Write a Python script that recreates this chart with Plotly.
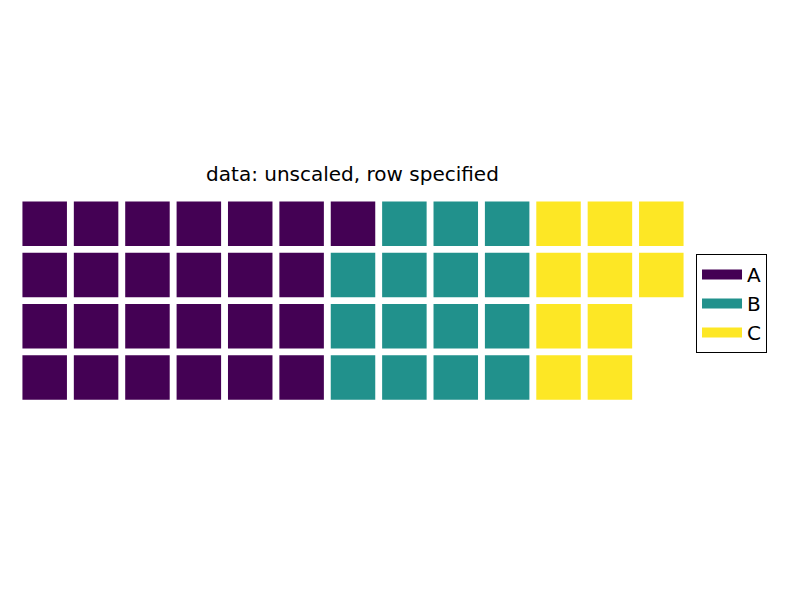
import plotly.graph_objects as go

categories = ["A", "B", "C"]
values = [25, 15, 10]
colors = ["#440154", "#21918c", "#fde725"]
n_rows = 4
title_text = "data: unscaled, row specified"

# Fill column by column, top to bottom
cells = []
for cat, v in zip(categories, values):
    cells += [cat] * v

fig = go.Figure()
for cat, col in zip(categories, colors):
    xs, ys = [], []
    for i, c in enumerate(cells):
        if c == cat:
            xs.append(i // n_rows)
            ys.append(n_rows - 1 - (i % n_rows))
    fig.add_trace(go.Scatter(
        x=xs, y=ys, mode="markers", showlegend=False, hoverinfo="skip",
        marker=dict(symbol="square", size=44.5, color=col, line=dict(width=0)),
    ))
for cat, col in zip(categories, colors):
    fig.add_trace(go.Scatter(
        x=[None], y=[None], mode="lines", name=cat, legendgroup=cat,
        line=dict(color=col, width=14),
    ))

n_cols = -(-sum(values) // n_rows)
fig.update_layout(
    width=800, height=600,
    margin=dict(l=19, r=113, t=198, b=197),
    plot_bgcolor="white", paper_bgcolor="white",
    font=dict(family="DejaVu Sans", size=20, color="black"),
    title=dict(text=title_text, x=0.4406, xanchor="center", y=1 - 174 / 600,
               yanchor="middle", yref="container", font=dict(size=20)),
    xaxis=dict(range=[-0.5, n_cols - 0.5], visible=False, fixedrange=True),
    yaxis=dict(range=[-0.5, n_rows - 0.5], visible=False, fixedrange=True),
    showlegend=True,
    legend=dict(x=1.0135, xanchor="left", y=0.727, yanchor="top",
                bordercolor="black", borderwidth=1, itemwidth=40,
                tracegroupgap=0, traceorder="grouped",
                font=dict(size=20)),
)
fig.write_html("out.html", config={"displayModeBar": False},
               post_script="document.body.style.margin='0px';")
